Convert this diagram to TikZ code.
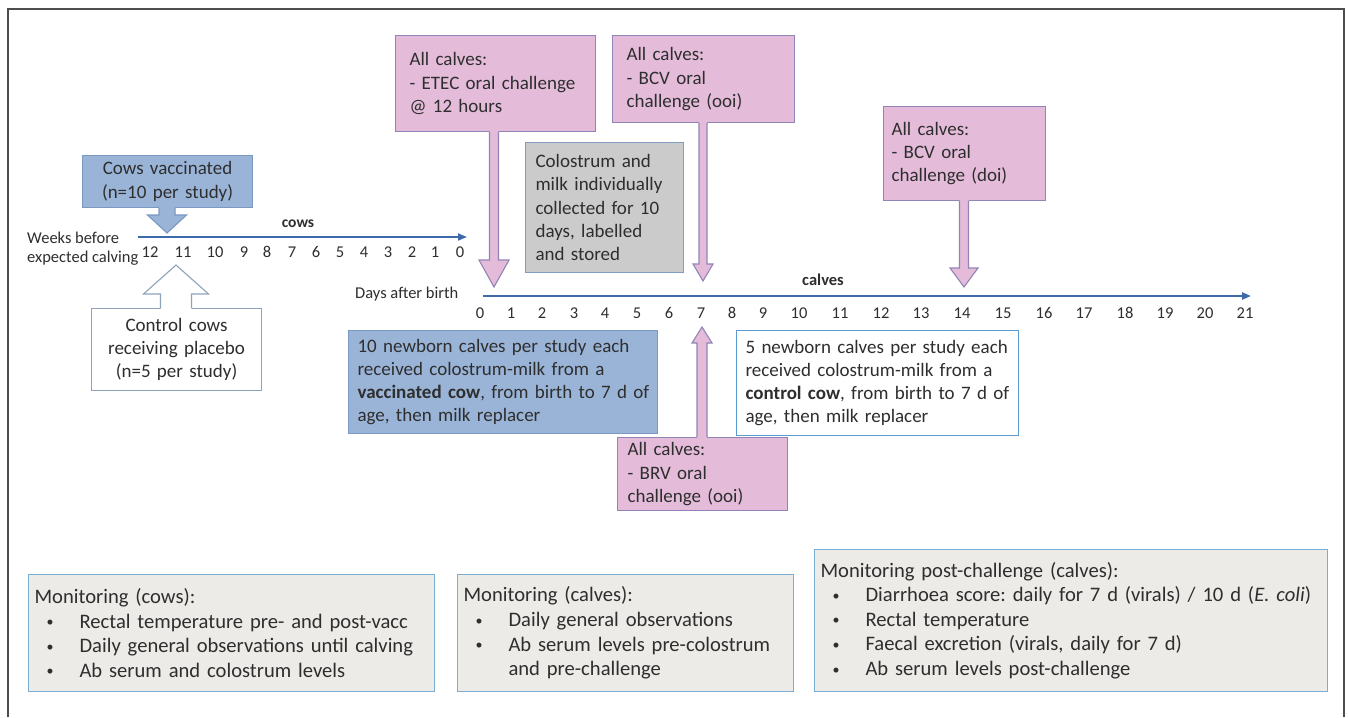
\documentclass[tikz,border=0pt]{standalone}
\usepackage{fontspec}
\setmainfont{Carlito}
\usetikzlibrary{calc,arrows.meta}

\definecolor{bluefill}{HTML}{9AB4D8}
\definecolor{blueline}{HTML}{7B98C2}
\definecolor{pinkfill}{HTML}{E4BCDA}
\definecolor{pinkline}{HTML}{9185B8}
\definecolor{grayfill}{HTML}{CBCBCB}
\definecolor{grayline}{HTML}{819EC2}
\definecolor{ctlline}{HTML}{8FA3BA}
\definecolor{ctltwoline}{HTML}{5B9BD0}
\definecolor{monfill}{HTML}{EDEBE8}
\definecolor{monline}{HTML}{79AED6}
\definecolor{axisc}{HTML}{3D6BAA}
\definecolor{txtc}{HTML}{2E2E2E}
\definecolor{framec}{HTML}{4D4D4D}

\frenchspacing
\newcommand\boxfont{\fontsize{19}{23.3}\selectfont}
\newcommand\axfont{\fontsize{16.5}{19}\selectfont}
\newcommand\monfont{\fontsize{20.6}{24.6}\selectfont}
\newcommand\li[1]{\mbox{#1}}
\newcommand\bul{\hspace*{12pt}\makebox[33pt][l]{\raisebox{1.5pt}{\fontsize{14}{14}\selectfont\textbullet}}}

\newcommand\myDown[7]{%
  \fill[#1] let \p1=(#3), \p2=(#4) in
    ({\x2-#5pt},{\y1+2pt}) -- ({\x2-#5pt},{\y2+#7pt}) -- ({\x2-#6pt},{\y2+#7pt}) -- (\x2,\y2)
    -- ({\x2+#6pt},{\y2+#7pt}) -- ({\x2+#5pt},{\y2+#7pt}) -- ({\x2+#5pt},{\y1+2pt}) -- cycle;
  \draw[#2, line width=1.1pt, line join=miter] let \p1=(#3), \p2=(#4) in
    ({\x2-#5pt},\y1) -- ({\x2-#5pt},{\y2+#7pt}) -- ({\x2-#6pt},{\y2+#7pt}) -- (\x2,\y2)
    -- ({\x2+#6pt},{\y2+#7pt}) -- ({\x2+#5pt},{\y2+#7pt}) -- ({\x2+#5pt},\y1);
}
\newcommand\myUp[7]{%
  \fill[#1] let \p1=(#3), \p2=(#4) in
    ({\x2-#5pt},{\y1-2pt}) -- ({\x2-#5pt},{\y2-#7pt}) -- ({\x2-#6pt},{\y2-#7pt}) -- (\x2,\y2)
    -- ({\x2+#6pt},{\y2-#7pt}) -- ({\x2+#5pt},{\y2-#7pt}) -- ({\x2+#5pt},{\y1-2pt}) -- cycle;
  \draw[#2, line width=1.1pt, line join=miter] let \p1=(#3), \p2=(#4) in
    ({\x2-#5pt},\y1) -- ({\x2-#5pt},{\y2-#7pt}) -- ({\x2-#6pt},{\y2-#7pt}) -- (\x2,\y2)
    -- ({\x2+#6pt},{\y2-#7pt}) -- ({\x2+#5pt},{\y2-#7pt}) -- ({\x2+#5pt},\y1);
}

\tikzset{
  bx/.style={rectangle, line width=1.1pt, inner ysep=0pt, align=left, anchor=north west, font=\boxfont, text=txtc},
  pinkbox/.style={bx, fill=pinkfill, draw=pinkline},
  bluebox/.style={bx, fill=bluefill, draw=blueline},
  graybox/.style={bx, fill=grayfill, draw=grayline},
  ctlbox/.style={bx, fill=white, draw=ctlline},
  ctltwobox/.style={bx, fill=white, draw=ctltwoline},
  monbox/.style={bx, fill=monfill, draw=monline, font=\monfont},
  lbl/.style={font=\axfont, text=txtc, inner sep=0pt},
  lblb/.style={font=\axfont\bfseries, text=txtc, inner sep=0pt},
  axnum/.style={font=\axfont, text=txtc, inner sep=0pt},
  axisline/.style={draw=axisc, line width=2pt, -{Triangle[length=9pt,width=7pt]}},
}

\begin{document}
\begin{tikzpicture}[x=1pt, y=-1pt]
\useasboundingbox (0,0) rectangle (1348,717);
\fill[white] (0,0) rectangle (1348,717);
\draw[framec, line width=2pt] (8,717) -- (8,9) -- (1344,9) -- (1344,717);

% ---------------- cows timeline
\node[lbl, anchor=west] (weeks1) at (27,238) {Weeks before};
\node[lbl, anchor=west] (weeks2) at (27,258) {expected calving};
\coordinate (cowA) at (138,237);
\coordinate (cowB) at (467,237);
\draw[axisline, line width=1.8pt] (cowA) -- (cowB);
\node[lblb, font=\fontsize{15.5}{18}\selectfont\bfseries] (cowslbl) at (298,224) {cows};
\foreach \v/\xx in {12/150,11/183,10/215,9/244,8/267,7/292,6/316,5/340,4/364,3/388,2/412,1/435,0/460}
  \node[axnum] (cw\v) at (\xx,252) {\v};

% ---------------- calves timeline
\node[lbl, anchor=west] (days) at (355,294) {Days after birth};
\coordinate (calA) at (483,296);
\coordinate (calB) at (1251,296);
\draw[axisline, line width=2.4pt] (calA) -- (calB);
\node[lblb] (calveslbl) at (823,280) {calves};
\foreach \v/\xx in {0/480,1/511,2/542,3/574,4/605,5/637,6/669,7/701,8/732,9/763,10/799,11/840,12/881,13/921,14/962,15/1003,16/1044,17/1084,18/1125,19/1165,20/1205,21/1245}
  \node[axnum] (cd\v) at (\xx,313) {\v};

% ---------------- cow boxes
\node[bluebox, align=center, minimum width=170pt, minimum height=52pt, inner xsep=0pt, text width=170pt] (cowsvac) at (82,155) {Cows vaccinated\\(n=10 per study)};
\coordinate (cowsvacTip) at (167,233);
\myDown{bluefill}{blueline}{cowsvac.south}{cowsvacTip}{8}{19.5}{18}

\node[ctlbox, align=center, minimum width=170pt, minimum height=82pt, inner xsep=0pt, text width=170pt] (cowsctl) at (91,308) {Control cows\\receiving placebo\\(n=5 per study)};
\coordinate (cowsctlTip) at (176,265);
\myUp{white}{ctlline}{cowsctl.north}{cowsctlTip}{15.5}{32.5}{29}

% ---------------- challenge boxes (top)
\node[pinkbox, minimum width=200pt, minimum height=96pt, inner xsep=14pt, text width=172pt] (etec) at (395,35) {\li{All calves:}\\\li{- ETEC oral challenge}\\\li{@ 12 hours}};
\coordinate (etecTip) at (494,287);
\myDown{pinkfill}{pinkline}{etec.south}{etecTip}{4.5}{15}{27}

\node[pinkbox, minimum width=182pt, minimum height=87pt, inner xsep=14pt, text width=154pt] (bcvooi) at (612,35) {\li{All calves:}\\\li{- BCV oral}\\\li{challenge (ooi)}};
\coordinate (bcvooiTip) at (703,281);
\myDown{pinkfill}{pinkline}{bcvooi.south}{bcvooiTip}{4}{10}{17}

\node[pinkbox, minimum width=162pt, minimum height=94pt, inner xsep=8pt, text width=146pt] (bcvdoi) at (883,106) {\li{All calves:}\\\li{- BCV oral}\\\li{challenge (doi)}};
\coordinate (bcvdoiTip) at (964,287);
\myDown{pinkfill}{pinkline}{bcvdoi.south}{bcvdoiTip}{4.5}{14}{19}

\node[graybox, minimum width=158pt, minimum height=130pt, inner xsep=10pt, text width=138pt] (colo) at (525,142) {\li{Colostrum and}\\\li{milk individually}\\\li{collected for 10}\\\li{days, labelled}\\\li{and stored}};

% ---------------- calves groups
\node[bluebox, minimum width=309pt, minimum height=103pt, inner xsep=9pt, text width=291pt] (calvac) at (348,330) {\li{10 newborn calves per study each}\\\li{received colostrum-milk from a}\\\li{\textbf{vaccinated cow}, from birth to 7 d of}\\\li{age, then milk replacer}};

\node[ctltwobox, minimum width=282pt, minimum height=105pt, inner xsep=9pt, text width=264pt] (calctl) at (736,330) {\li{5 newborn calves per study each}\\\li{received colostrum-milk from a}\\\li{\textbf{control cow}, from birth to 7 d of}\\\li{age, then milk replacer}};

\node[pinkbox, minimum width=170pt, minimum height=73pt, inner xsep=10pt, text width=150pt] (brv) at (617,437) {\li{All calves:}\\\li{- BRV oral}\\\li{challenge (ooi)}};
\coordinate (brvTip) at (702,327);
\myUp{pinkfill}{pinkline}{brv.north}{brvTip}{5}{10}{16}

% ---------------- monitoring boxes
\node[monbox, minimum width=406pt, minimum height=117pt, inner xsep=6pt, text width=394pt] (moncows) at (28,574)
  {\li{Monitoring (cows):}\\\li{\bul Rectal temperature pre- and post-vacc}\\\li{\bul Daily general observations until calving}\\\li{\bul Ab serum and colostrum levels}};
\node[monbox, minimum width=336pt, minimum height=117pt, inner xsep=6pt, text width=324pt] (moncalves) at (457,574)
  {\li{Monitoring (calves):}\\\li{\bul Daily general observations}\\\li{\bul Ab serum levels pre-colostrum}\\\li{\hspace*{45pt}and pre-challenge}};
\node[monbox, minimum width=513pt, minimum height=142pt, inner xsep=6pt, text width=501pt] (monpost) at (814,549)
  {\li{Monitoring post-challenge (calves):}\\\li{\bul Diarrhoea score: daily for 7 d (virals) / 10 d (\textit{E. coli})}\\\li{\bul Rectal temperature}\\\li{\bul Faecal excretion (virals, daily for 7 d)}\\\li{\bul Ab serum levels post-challenge}};
\end{tikzpicture}
\end{document}
